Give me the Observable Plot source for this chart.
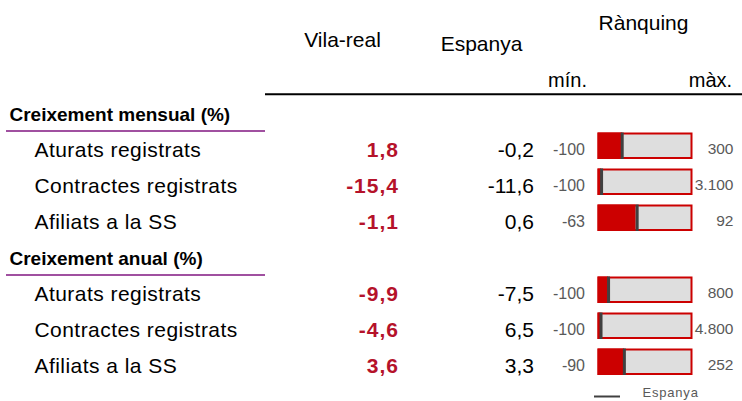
<!DOCTYPE html>
<html>
<head>
<meta charset="utf-8">
<script src="https://cdn.jsdelivr.net/npm/d3@7"></script>
<script src="https://cdn.jsdelivr.net/npm/@observablehq/plot@0.6"></script>
<style>
  body { margin: 0; background: #fff; }
</style>
</head>
<body>
<div id="chart"></div>
<script>
// ---- data ----
const sections = ["Creixement mensual (%)", "Creixement anual (%)"];
const indicators = ["Aturats registrats", "Contractes registrats", "Afiliats a la SS"];
const vilaReal = [1.8, -15.4, -1.1, -9.9, -4.6, 3.6];
const espanya = [-0.2, -11.6, 0.6, -7.5, 6.5, 3.3];
const rankMin = [-100, -100, -63, -100, -100, -90];
const rankMax = [300, 3100, 92, 800, 4800, 252];
const columnHeaders = ["Vila-real", "Espanya", "Rànquing"];
const rankLabels = ["mín.", "màx."];
const legendLabel = "Espanya";

// ---- table rows ----
const locale = d3.formatLocale({decimal: ",", thousands: ".", grouping: [3], currency: ["", " €"], minus: "-"});
const fmt1 = locale.format(",.1f");
const fmt0 = locale.format(",d");

const rows = [];
const dataRows = [];
const headerRows = [];
sections.forEach((s, si) => {
  const h = {key: "h" + si, label: s};
  rows.push(h); headerRows.push(h);
  indicators.forEach((ind, ii) => {
    const i = si * indicators.length + ii;
    const lo = rankMin[i], hi = rankMax[i];
    const r = {
      key: "r" + i, label: ind,
      vila: vilaReal[i], esp: espanya[i], lo, hi,
      vNorm: (vilaReal[i] - lo) / (hi - lo),
      eNorm: (espanya[i] - lo) / (hi - lo)
    };
    rows.push(r); dataRows.push(r);
  });
});
const keys = rows.map(d => d.key);

const RED = "#cc0000";
const VRED = "#b5122a";
const GREY = "#595959";
const FONT = "Liberation Sans, Arial, sans-serif";

const hdr = (t, dx, dy, size, extra = {}) =>
  Plot.text([t], {frameAnchor: "top-left", lineAnchor: "middle", dx, dy, text: d => d, fontSize: size, fill: "#000", textAnchor: "middle", ...extra});

const chart = Plot.plot({
  width: 742,
  height: 401,
  marginTop: 0, marginRight: 0, marginBottom: 0, marginLeft: 0,
  style: {fontFamily: FONT, background: "#fff", overflow: "visible"},
  x: {domain: [0, 1], range: [598.5, 691.5], axis: null},
  y: {type: "band", domain: keys, range: [95.5, 384.3], padding: 0, axis: null},
  marks: [
    // column headers
    hdr(columnHeaders[0], 342, 40, 21),
    hdr(columnHeaders[1], 481, 43.5, 21),
    hdr(columnHeaders[2], 643, 22.6, 21),
    hdr(rankLabels[0], 567, 79.6, 20),
    hdr(rankLabels[1], 710, 79.6, 20),
    // black header rule
    Plot.ruleY([headerRows[0]], {y: "key", dy: -20.2, insetLeft: 265, stroke: "#000", strokeWidth: 2}),
    // section headers + purple rules
    Plot.text(headerRows, {y: "key", text: "label", frameAnchor: "left", dx: 9, textAnchor: "start", fontSize: 19, fontWeight: "bold", fill: "#000"}),
    Plot.ruleY(headerRows, {y: "key", dy: 16.5, insetLeft: 6, insetRight: 477, stroke: "#a050a0", strokeWidth: 2}),
    // indicator labels and values
    Plot.text(dataRows, {y: "key", text: "label", frameAnchor: "left", dx: 34, textAnchor: "start", fontSize: 21, fill: "#000"}),
    Plot.text(dataRows, {y: "key", text: d => fmt1(d.vila), frameAnchor: "left", dx: 398.5, textAnchor: "end", fontSize: 21, fontWeight: "bold", fill: VRED}),
    Plot.text(dataRows, {y: "key", text: d => fmt1(d.esp), frameAnchor: "left", dx: 533.5, textAnchor: "end", fontSize: 21, fill: "#000"}),
    // ranking min / max labels
    Plot.text(dataRows, {y: "key", x: () => 0, dx: -14, dy: -1, text: d => fmt0(d.lo), textAnchor: "end", fontSize: 16, fill: GREY}),
    Plot.text(dataRows, {y: "key", x: () => 1, dx: 41.5, dy: -1, text: d => fmt0(d.hi), textAnchor: "end", fontSize: 15.5, fill: GREY}),
    // ranking bars
    Plot.barX(dataRows, {y: "key", x1: () => 0, x2: () => 1, fill: "#dedede", stroke: RED, strokeWidth: 2, insetTop: 1.5, insetBottom: 10}),
    Plot.barX(dataRows, {y: "key", x1: () => 0, x2: "vNorm", fill: RED, insetTop: 0.5, insetBottom: 9, insetLeft: -1}),
    Plot.tickX(dataRows, {y: "key", x: "eNorm", stroke: "#404040", strokeWidth: 3, insetTop: 0.5, insetBottom: 9}),
    // legend
    Plot.ruleY([rows[rows.length - 1]], {y: "key", dy: 30, insetLeft: 594, insetRight: 122, stroke: "#404040", strokeWidth: 2}),
    Plot.text([legendLabel], {frameAnchor: "top-left", lineAnchor: "middle", dx: 642, dy: 392.5, text: d => d, textAnchor: "start", fontSize: 13, fill: GREY})
  ]
});
document.getElementById("chart").appendChild(chart);

// letter spacing tweaks to match the reference's wider text
const vilaTexts = new Set(vilaReal.map(fmt1));
d3.select(chart).selectAll("text").each(function() {
  const t = this.textContent;
  const fs = +(this.getAttribute("font-size") || this.parentNode.getAttribute("font-size") || 0);
  if (indicators.includes(t)) this.style.letterSpacing = "0.45px";
  else if (vilaTexts.has(t) && this.parentNode.getAttribute("font-weight") === "bold") this.style.letterSpacing = "1px";
  else if (t === legendLabel && fs === 13) this.style.letterSpacing = "0.8px";
});
</script>
</body>
</html>
